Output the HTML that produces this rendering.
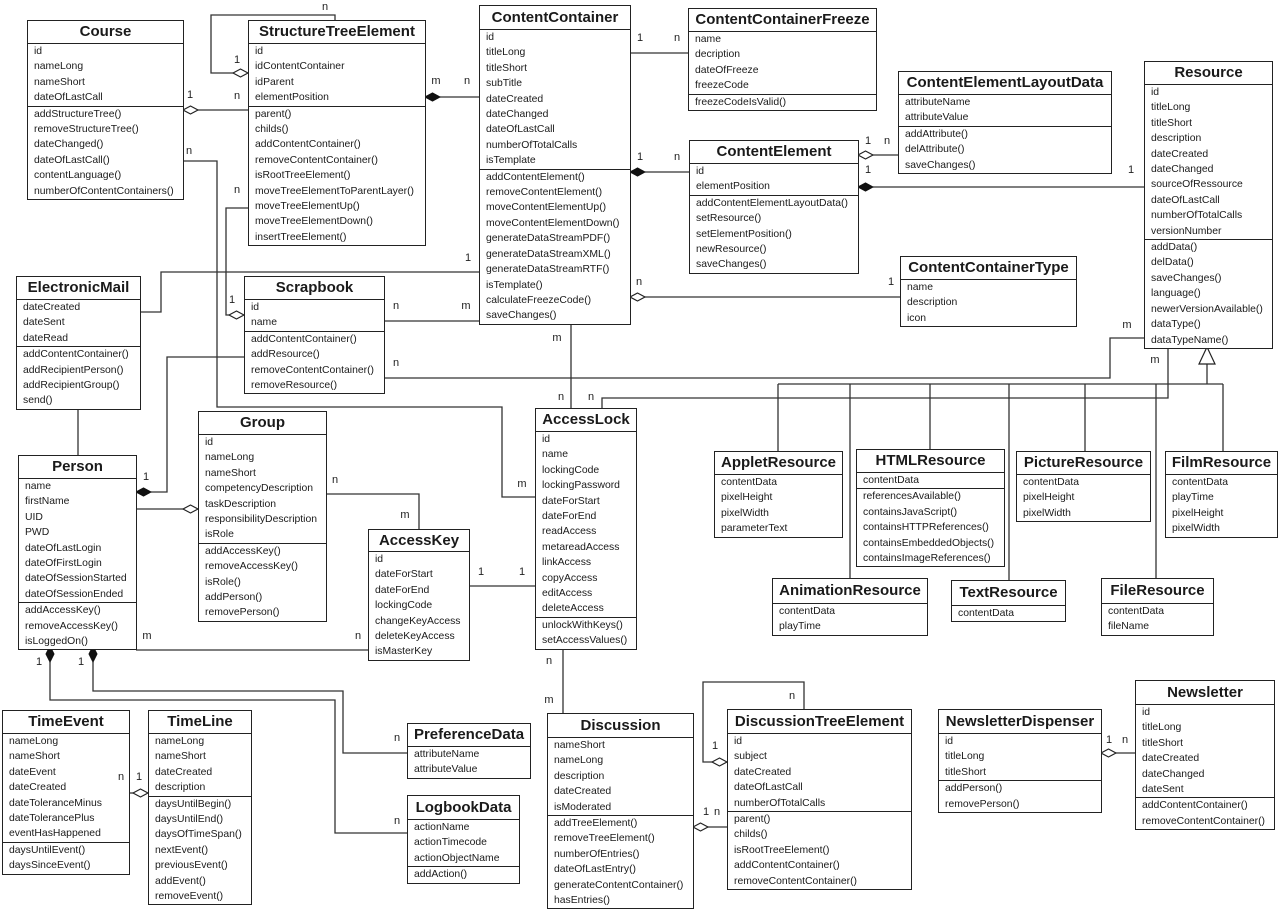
<!DOCTYPE html>
<html><head><meta charset="utf-8">
<style>
html,body{margin:0;padding:0;background:#fff;}
body{width:1280px;height:907px;position:relative;overflow:hidden;font-family:"Liberation Sans",Arial,sans-serif;color:#1a1a1a;}
.c{position:absolute;border:1.3px solid #222;background:#fff;box-sizing:border-box;}
.t{font-weight:bold;font-size:15px;text-align:center;border-bottom:1.3px solid #222;height:22px;line-height:22px;white-space:nowrap;}
.s{border-bottom:1.3px solid #222;}
.s:last-child{border-bottom:none;}
.r{font-size:10.4px;line-height:15.4px;padding-left:6px;white-space:nowrap;}
svg{position:absolute;left:0;top:0;}
svg text{font-family:"Liberation Sans",Arial,sans-serif;font-size:11px;fill:#222;}
</style></head><body>
<svg width="1280" height="907" viewBox="0 0 1280 907">
<g fill="none" stroke="#333" stroke-width="1.3">
<polyline points="335,20 335,15 211,15 211,73 233,73"/>
<line x1="198" y1="110" x2="248" y2="110"/>
<line x1="440" y1="97" x2="479" y2="97"/>
<line x1="630" y1="53" x2="688" y2="53"/>
<line x1="645" y1="172" x2="689" y2="172"/>
<line x1="873" y1="155" x2="898" y2="155"/>
<line x1="873" y1="187" x2="1144" y2="187"/>
<line x1="645" y1="297" x2="900" y2="297"/>
<polyline points="183,161 217,161 217,407 502,407 502,497 535,497"/>
<polyline points="248,208 226,208 226,315 229,315"/>
<polyline points="140,312 161,312 161,272 479,272"/>
<line x1="384" y1="321" x2="479" y2="321"/>
<polyline points="244,357 167,357 167,492 151,492"/>
<line x1="136" y1="509" x2="183" y2="509"/>
<line x1="78" y1="406" x2="78" y2="455"/>
<polyline points="384,378 1110,378 1110,338 1144,338"/>
<line x1="571" y1="322" x2="571" y2="408"/>
<polyline points="602,408 602,398 1168,398 1168,347"/>
<line x1="1207" y1="364" x2="1207" y2="384"/>
<line x1="778" y1="384" x2="1223" y2="384"/>
<line x1="778" y1="384" x2="778" y2="451"/>
<line x1="850" y1="384" x2="850" y2="578"/>
<line x1="930" y1="384" x2="930" y2="449"/>
<line x1="1009" y1="384" x2="1009" y2="580"/>
<line x1="1085" y1="384" x2="1085" y2="451"/>
<line x1="1156" y1="384" x2="1156" y2="578"/>
<line x1="1223" y1="384" x2="1223" y2="451"/>
<polyline points="326,494 419,494 419,529"/>
<line x1="469" y1="586" x2="535" y2="586"/>
<line x1="136" y1="650" x2="368" y2="650"/>
<polyline points="50,662 50,700 335,700 335,833 407,833"/>
<polyline points="93,662 93,691 343,691 343,753 407,753"/>
<line x1="129" y1="793" x2="133" y2="793"/>
<line x1="563" y1="646" x2="563" y2="713"/>
<polyline points="804,709 804,682 703,682 703,762 712,762"/>
<line x1="708" y1="827" x2="727" y2="827"/>
<line x1="1116" y1="753" x2="1135" y2="753"/>
</g>
<g stroke="#222" stroke-width="1.2" fill="#fff">
<polygon points="233,73 240.5,69 248,73 240.5,77"/>
<polygon points="183,110 190.5,106 198,110 190.5,114"/>
<polygon points="858,155 865.5,151 873,155 865.5,159"/>
<polygon points="630,297 637.5,293 645,297 637.5,301"/>
<polygon points="229,315 236.5,311 244,315 236.5,319"/>
<polygon points="183,509 190.5,505 198,509 190.5,513"/>
<polygon points="1207,347 1199,364 1215,364"/>
<polygon points="133,793 140.5,789 148,793 140.5,797"/>
<polygon points="712,762 719.5,758 727,762 719.5,766"/>
<polygon points="693,827 700.5,823 708,827 700.5,831"/>
<polygon points="1101,753 1108.5,749 1116,753 1108.5,757"/>
</g>
<g stroke="#111" stroke-width="1" fill="#111">
<polygon points="425,97 432.5,93 440,97 432.5,101"/>
<polygon points="630,172 637.5,168 645,172 637.5,176"/>
<polygon points="858,187 865.5,183 873,187 865.5,191"/>
<polygon points="136,492 143.5,488 151,492 143.5,496"/>
<polygon points="50,646 46,654 50,662 54,654"/>
<polygon points="93,646 89,654 93,662 97,654"/>
</g>
</svg>

<div class="c" style="left:27px;top:20px;width:157px;"><div class="t">Course</div>
<div class="s"><div class="r">id</div><div class="r">nameLong</div><div class="r">nameShort</div><div class="r">dateOfLastCall</div></div>
<div class="s"><div class="r">addStructureTree()</div><div class="r">removeStructureTree()</div><div class="r">dateChanged()</div><div class="r">dateOfLastCall()</div><div class="r">contentLanguage()</div><div class="r">numberOfContentContainers()</div></div></div>

<div class="c" style="left:248px;top:20px;width:178px;"><div class="t">StructureTreeElement</div>
<div class="s"><div class="r">id</div><div class="r">idContentContainer</div><div class="r">idParent</div><div class="r">elementPosition</div></div>
<div class="s"><div class="r">parent()</div><div class="r">childs()</div><div class="r">addContentContainer()</div><div class="r">removeContentContainer()</div><div class="r">isRootTreeElement()</div><div class="r">moveTreeElementToParentLayer()</div><div class="r">moveTreeElementUp()</div><div class="r">moveTreeElementDown()</div><div class="r">insertTreeElement()</div></div></div>

<div class="c" style="left:479px;top:5px;width:152px;"><div class="t" style="height:23px;line-height:23px">ContentContainer</div>
<div class="s"><div class="r">id</div><div class="r">titleLong</div><div class="r">titleShort</div><div class="r">subTitle</div><div class="r">dateCreated</div><div class="r">dateChanged</div><div class="r">dateOfLastCall</div><div class="r">numberOfTotalCalls</div><div class="r">isTemplate</div></div>
<div class="s"><div class="r">addContentElement()</div><div class="r">removeContentElement()</div><div class="r">moveContentElementUp()</div><div class="r">moveContentElementDown()</div><div class="r">generateDataStreamPDF()</div><div class="r">generateDataStreamXML()</div><div class="r">generateDataStreamRTF()</div><div class="r">isTemplate()</div><div class="r">calculateFreezeCode()</div><div class="r">saveChanges()</div></div></div>

<div class="c" style="left:688px;top:8px;width:189px;"><div class="t">ContentContainerFreeze</div>
<div class="s"><div class="r">name</div><div class="r">decription</div><div class="r">dateOfFreeze</div><div class="r">freezeCode</div></div>
<div class="s"><div class="r">freezeCodeIsValid()</div></div></div>

<div class="c" style="left:898px;top:71px;width:214px;"><div class="t">ContentElementLayoutData</div>
<div class="s"><div class="r">attributeName</div><div class="r">attributeValue</div></div>
<div class="s"><div class="r">addAttribute()</div><div class="r">delAttribute()</div><div class="r">saveChanges()</div></div></div>

<div class="c" style="left:1144px;top:61px;width:129px;"><div class="t">Resource</div>
<div class="s"><div class="r">id</div><div class="r">titleLong</div><div class="r">titleShort</div><div class="r">description</div><div class="r">dateCreated</div><div class="r">dateChanged</div><div class="r">sourceOfRessource</div><div class="r">dateOfLastCall</div><div class="r">numberOfTotalCalls</div><div class="r">versionNumber</div></div>
<div class="s"><div class="r">addData()</div><div class="r">delData()</div><div class="r">saveChanges()</div><div class="r">language()</div><div class="r">newerVersionAvailable()</div><div class="r">dataType()</div><div class="r">dataTypeName()</div></div></div>

<div class="c" style="left:689px;top:140px;width:170px;"><div class="t">ContentElement</div>
<div class="s"><div class="r">id</div><div class="r">elementPosition</div></div>
<div class="s"><div class="r">addContentElementLayoutData()</div><div class="r">setResource()</div><div class="r">setElementPosition()</div><div class="r">newResource()</div><div class="r">saveChanges()</div></div></div>

<div class="c" style="left:900px;top:256px;width:177px;"><div class="t">ContentContainerType</div>
<div class="s"><div class="r">name</div><div class="r">description</div><div class="r">icon</div></div></div>

<div class="c" style="left:16px;top:276px;width:125px;"><div class="t">ElectronicMail</div>
<div class="s"><div class="r">dateCreated</div><div class="r">dateSent</div><div class="r">dateRead</div></div>
<div class="s"><div class="r">addContentContainer()</div><div class="r">addRecipientPerson()</div><div class="r">addRecipientGroup()</div><div class="r">send()</div></div></div>

<div class="c" style="left:244px;top:276px;width:141px;"><div class="t">Scrapbook</div>
<div class="s"><div class="r">id</div><div class="r">name</div></div>
<div class="s"><div class="r">addContentContainer()</div><div class="r">addResource()</div><div class="r">removeContentContainer()</div><div class="r">removeResource()</div></div></div>

<div class="c" style="left:198px;top:411px;width:129px;"><div class="t">Group</div>
<div class="s"><div class="r">id</div><div class="r">nameLong</div><div class="r">nameShort</div><div class="r">competencyDescription</div><div class="r">taskDescription</div><div class="r">responsibilityDescription</div><div class="r">isRole</div></div>
<div class="s"><div class="r">addAccessKey()</div><div class="r">removeAccessKey()</div><div class="r">isRole()</div><div class="r">addPerson()</div><div class="r">removePerson()</div></div></div>

<div class="c" style="left:18px;top:455px;width:119px;"><div class="t">Person</div>
<div class="s"><div class="r">name</div><div class="r">firstName</div><div class="r">UID</div><div class="r">PWD</div><div class="r">dateOfLastLogin</div><div class="r">dateOfFirstLogin</div><div class="r">dateOfSessionStarted</div><div class="r">dateOfSessionEnded</div></div>
<div class="s"><div class="r">addAccessKey()</div><div class="r">removeAccessKey()</div><div class="r">isLoggedOn()</div></div></div>

<div class="c" style="left:368px;top:529px;width:102px;"><div class="t" style="height:21px;line-height:21px">AccessKey</div>
<div class="s"><div class="r">id</div><div class="r">dateForStart</div><div class="r">dateForEnd</div><div class="r">lockingCode</div><div class="r">changeKeyAccess</div><div class="r">deleteKeyAccess</div><div class="r">isMasterKey</div></div></div>

<div class="c" style="left:535px;top:408px;width:102px;"><div class="t">AccessLock</div>
<div class="s"><div class="r">id</div><div class="r">name</div><div class="r">lockingCode</div><div class="r">lockingPassword</div><div class="r">dateForStart</div><div class="r">dateForEnd</div><div class="r">readAccess</div><div class="r">metareadAccess</div><div class="r">linkAccess</div><div class="r">copyAccess</div><div class="r">editAccess</div><div class="r">deleteAccess</div></div>
<div class="s"><div class="r">unlockWithKeys()</div><div class="r">setAccessValues()</div></div></div>

<div class="c" style="left:714px;top:451px;width:129px;"><div class="t">AppletResource</div>
<div class="s"><div class="r">contentData</div><div class="r">pixelHeight</div><div class="r">pixelWidth</div><div class="r">parameterText</div></div></div>

<div class="c" style="left:856px;top:449px;width:149px;"><div class="t">HTMLResource</div>
<div class="s"><div class="r">contentData</div></div>
<div class="s"><div class="r">referencesAvailable()</div><div class="r">containsJavaScript()</div><div class="r">containsHTTPReferences()</div><div class="r">containsEmbeddedObjects()</div><div class="r">containsImageReferences()</div></div></div>

<div class="c" style="left:1016px;top:451px;width:135px;"><div class="t">PictureResource</div>
<div class="s"><div class="r">contentData</div><div class="r">pixelHeight</div><div class="r">pixelWidth</div></div></div>

<div class="c" style="left:1165px;top:451px;width:113px;"><div class="t">FilmResource</div>
<div class="s"><div class="r">contentData</div><div class="r">playTime</div><div class="r">pixelHeight</div><div class="r">pixelWidth</div></div></div>

<div class="c" style="left:772px;top:578px;width:156px;"><div class="t" style="height:24px;line-height:24px">AnimationResource</div>
<div class="s"><div class="r">contentData</div><div class="r">playTime</div></div></div>

<div class="c" style="left:951px;top:580px;width:115px;"><div class="t" style="height:24px;line-height:24px">TextResource</div>
<div class="s"><div class="r">contentData</div></div></div>

<div class="c" style="left:1101px;top:578px;width:113px;"><div class="t" style="height:24px;line-height:24px">FileResource</div>
<div class="s"><div class="r">contentData</div><div class="r">fileName</div></div></div>

<div class="c" style="left:2px;top:710px;width:128px;"><div class="t">TimeEvent</div>
<div class="s"><div class="r">nameLong</div><div class="r">nameShort</div><div class="r">dateEvent</div><div class="r">dateCreated</div><div class="r">dateToleranceMinus</div><div class="r">dateTolerancePlus</div><div class="r">eventHasHappened</div></div>
<div class="s"><div class="r">daysUntilEvent()</div><div class="r">daysSinceEvent()</div></div></div>

<div class="c" style="left:148px;top:710px;width:104px;"><div class="t">TimeLine</div>
<div class="s"><div class="r">nameLong</div><div class="r">nameShort</div><div class="r">dateCreated</div><div class="r">description</div></div>
<div class="s"><div class="r">daysUntilBegin()</div><div class="r">daysUntilEnd()</div><div class="r">daysOfTimeSpan()</div><div class="r">nextEvent()</div><div class="r">previousEvent()</div><div class="r">addEvent()</div><div class="r">removeEvent()</div></div></div>

<div class="c" style="left:407px;top:723px;width:124px;"><div class="t">PreferenceData</div>
<div class="s"><div class="r">attributeName</div><div class="r">attributeValue</div></div></div>

<div class="c" style="left:407px;top:795px;width:113px;"><div class="t" style="height:23px;line-height:23px">LogbookData</div>
<div class="s"><div class="r">actionName</div><div class="r">actionTimecode</div><div class="r">actionObjectName</div></div>
<div class="s"><div class="r">addAction()</div></div></div>

<div class="c" style="left:547px;top:713px;width:147px;"><div class="t" style="height:23px;line-height:23px">Discussion</div>
<div class="s"><div class="r">nameShort</div><div class="r">nameLong</div><div class="r">description</div><div class="r">dateCreated</div><div class="r">isModerated</div></div>
<div class="s"><div class="r">addTreeElement()</div><div class="r">removeTreeElement()</div><div class="r">numberOfEntries()</div><div class="r">dateOfLastEntry()</div><div class="r">generateContentContainer()</div><div class="r">hasEntries()</div></div></div>

<div class="c" style="left:727px;top:709px;width:185px;"><div class="t" style="height:23px;line-height:23px">DiscussionTreeElement</div>
<div class="s"><div class="r">id</div><div class="r">subject</div><div class="r">dateCreated</div><div class="r">dateOfLastCall</div><div class="r">numberOfTotalCalls</div></div>
<div class="s"><div class="r">parent()</div><div class="r">childs()</div><div class="r">isRootTreeElement()</div><div class="r">addContentContainer()</div><div class="r">removeContentContainer()</div></div></div>

<div class="c" style="left:938px;top:709px;width:164px;"><div class="t" style="height:23px;line-height:23px">NewsletterDispenser</div>
<div class="s"><div class="r">id</div><div class="r">titleLong</div><div class="r">titleShort</div></div>
<div class="s"><div class="r">addPerson()</div><div class="r">removePerson()</div></div></div>

<div class="c" style="left:1135px;top:680px;width:140px;"><div class="t" style="height:23px;line-height:23px">Newsletter</div>
<div class="s"><div class="r">id</div><div class="r">titleLong</div><div class="r">titleShort</div><div class="r">dateCreated</div><div class="r">dateChanged</div><div class="r">dateSent</div></div>
<div class="s"><div class="r">addContentContainer()</div><div class="r">removeContentContainer()</div></div></div>

<svg width="1280" height="907" viewBox="0 0 1280 907" style="pointer-events:none">
<g text-anchor="middle" dominant-baseline="central">
<text x="325" y="7">n</text><text x="237" y="60">1</text>
<text x="190" y="95">1</text><text x="237" y="96">n</text>
<text x="436" y="81">m</text><text x="467" y="81">n</text>
<text x="640" y="38">1</text><text x="677" y="38">n</text>
<text x="640" y="157">1</text><text x="677" y="157">n</text>
<text x="868" y="141">1</text><text x="887" y="141">n</text>
<text x="868" y="170">1</text><text x="1131" y="170">1</text>
<text x="639" y="282">n</text><text x="891" y="282">1</text>
<text x="189" y="151">n</text><text x="237" y="190">n</text>
<text x="232" y="300">1</text><text x="468" y="258">1</text>
<text x="396" y="306">n</text><text x="466" y="306">m</text>
<text x="146" y="477">1</text><text x="396" y="363">n</text>
<text x="1127" y="325">m</text><text x="557" y="338">m</text>
<text x="561" y="397">n</text><text x="591" y="397">n</text>
<text x="1155" y="360">m</text><text x="335" y="480">n</text>
<text x="405" y="515">m</text><text x="481" y="572">1</text>
<text x="522" y="572">1</text><text x="522" y="484">m</text>
<text x="147" y="636">m</text><text x="358" y="636">n</text>
<text x="39" y="662">1</text><text x="81" y="662">1</text>
<text x="397" y="738">n</text><text x="397" y="821">n</text>
<text x="121" y="777">n</text><text x="139" y="777">1</text>
<text x="549" y="661">n</text><text x="549" y="700">m</text>
<text x="792" y="696">n</text><text x="715" y="746">1</text>
<text x="706" y="812">1</text><text x="717" y="812">n</text>
<text x="1109" y="740">1</text><text x="1125" y="740">n</text>
</g>
</svg>
</body></html>
